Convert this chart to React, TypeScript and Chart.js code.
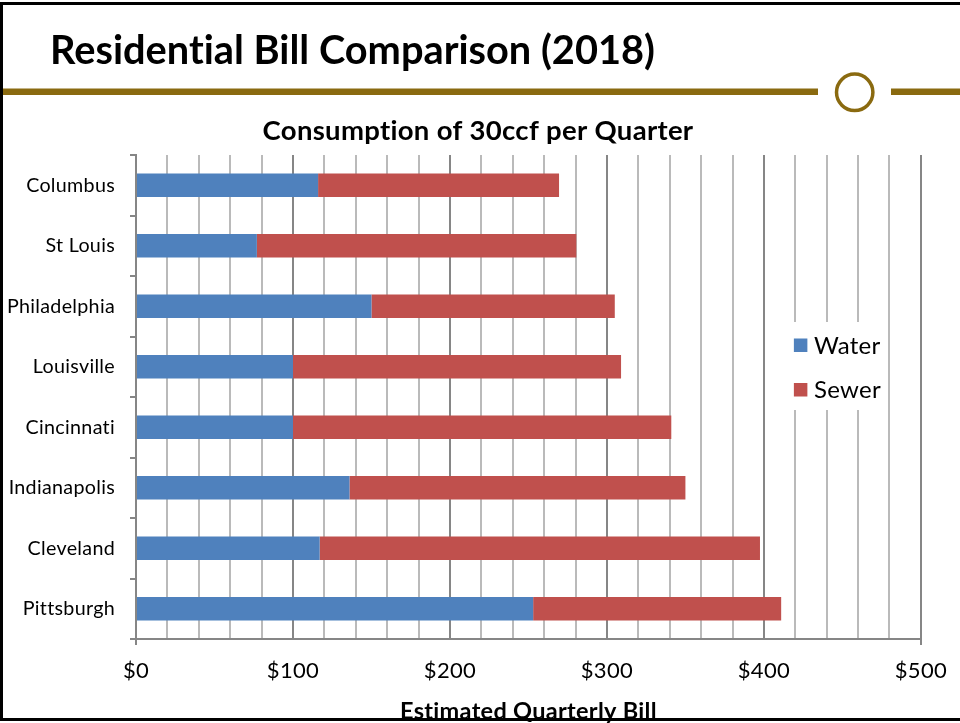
import React, { useEffect, useRef } from 'react';
import { Chart, registerables } from 'chart.js';

Chart.register(...registerables);

// ---- Data ----
const cities = ['Columbus', 'St Louis', 'Philadelphia', 'Louisville', 'Cincinnati', 'Indianapolis', 'Cleveland', 'Pittsburgh'];
const waterBill = [116, 77, 150, 100, 100, 136, 117, 253];
const sewerBill = [153.5, 203.5, 155, 209, 241, 214, 280.5, 158];
const seriesNames = ['Water', 'Sewer'];
const seriesColors = ['#4F81BD', '#C0504D'];
const xMin = 0;
const xMax = 500;
const xGridStep = 20;
const xLabelStep = 100;
const pageTitle = 'Residential Bill Comparison (2018)';
const chartTitle = 'Consumption of 30ccf per Quarter';
const xAxisTitle = 'Estimated Quarterly Bill';

const GOLD = '#8A6A10';
const FONT = 'Lato';

// Disable ligatures (e.g. "ti") in canvas text by a tiny letter spacing.
function setSpacing(chart: any) {
  try {
    chart.ctx.letterSpacing = '0.3px';
  } catch (e) {
    /* ignore */
  }
}
const noLigatures = {
  id: 'noLigatures',
  beforeUpdate: setSpacing,
  beforeLayout: setSpacing,
  beforeDraw: setSpacing,
};

// Center the chart title over a slightly shifted band, like the original.
const titleShift = {
  id: 'titleShift',
  afterLayout(chart: any) {
    const tb = chart.titleBlock;
    if (tb) {
      tb.left = 26;
      tb.width = tb.right - tb.left;
    }
  },
};

const insideLegend = {
  id: 'insideLegend',
  afterDraw(chart: any) {
    const { ctx, chartArea } = chart;
    const left = chartArea.right - 130;
    const top = chartArea.top + 167;
    const w = 97;
    const h = 88;
    ctx.save();
    ctx.fillStyle = '#ffffff';
    ctx.fillRect(left, top, w, h);
    ctx.font = `24px ${FONT}`;
    ctx.textBaseline = 'middle';
    ctx.textAlign = 'left';
    chart.data.datasets.forEach((ds: any, i: number) => {
      const cy = top + 23 + i * 44.5;
      ctx.fillStyle = ds.backgroundColor;
      ctx.fillRect(left + 3, cy - 6.5, 13.5, 13.5);
      ctx.fillStyle = '#000';
      ctx.fillText(ds.label, left + 23, cy + 1);
    });
    ctx.restore();
  },
};

export default function App() {
  const canvasRef = useRef<HTMLCanvasElement | null>(null);

  useEffect(() => {
    document.body.style.margin = '0';
    const canvas = canvasRef.current;
    if (!canvas) return;
    const chart = new Chart(canvas, {
      type: 'bar',
      data: {
        labels: cities,
        datasets: [
          { label: seriesNames[0], data: waterBill, backgroundColor: seriesColors[0], barPercentage: 0.385, categoryPercentage: 1 },
          { label: seriesNames[1], data: sewerBill, backgroundColor: seriesColors[1], barPercentage: 0.385, categoryPercentage: 1 },
        ],
      },
      options: {
        indexAxis: 'y',
        responsive: false,
        animation: false,
        events: [],
        layout: { padding: { top: 100, left: 0, right: 30, bottom: 0 } },
        plugins: {
          legend: { display: false },
          tooltip: { enabled: false },
          title: {
            display: true,
            text: chartTitle,
            color: '#000',
            font: { family: FONT, size: 27.5, weight: 'bold', lineHeight: 1.2 },
            padding: { top: 14.5, bottom: 7.5 },
          },
        },
        scales: {
          x: {
            stacked: true,
            min: xMin,
            max: xMax,
            ticks: {
              stepSize: xGridStep,
              autoSkip: false,
              maxRotation: 0,
              color: '#000',
              padding: 13,
              font: { family: FONT, size: 22 },
              callback: (v: any) => (Number(v) % xLabelStep === 0 ? '$' + v : ''),
            },
            grid: {
              color: (c: any) => (c.tick && Number(c.tick.value) % xLabelStep === 0 ? '#868686' : '#bababa'),
              lineWidth: 2,
              tickLength: 6,
              tickColor: (c: any) =>
                c.tick && (c.tick.value === xMin || c.tick.value === xMax) ? '#868686' : 'rgba(0,0,0,0)',
            },
            border: { color: '#868686', width: 2 },
            title: {
              display: true,
              text: xAxisTitle,
              color: '#000',
              font: { family: FONT, size: 23.5, weight: 'bold', lineHeight: 1 },
              padding: 0,
            },
            afterFit: (s: any) => {
              s.height = 84;
            },
          },
          y: {
            stacked: true,
            ticks: { color: '#000', padding: 15, font: { family: FONT, size: 19.7 } },
            grid: { drawOnChartArea: false, tickLength: 6, color: '#868686', lineWidth: 2 },
            border: { color: '#868686', width: 2 },
            afterFit: (s: any) => {
              s.width = 136;
            },
          },
        },
      } as any,
      plugins: [noLigatures, titleShift, insideLegend],
    });
    return () => chart.destroy();
  }, []);

  return (
    <div style={{ position: 'fixed', left: 0, top: 0, width: 960, height: 723, background: '#fff', overflow: 'hidden' }}>
      <canvas ref={canvasRef} width={960} height={723} style={{ position: 'absolute', left: 0, top: 0 }} />
      <svg width={960} height={723} style={{ position: 'absolute', left: 0, top: 0, pointerEvents: 'none' }}>
        <text
          x={50}
          y={64}
          fontFamily={FONT}
          fontWeight="bold"
          fontSize={40}
          fill="#000"
          textLength={605}
          lengthAdjust="spacingAndGlyphs"
          style={{ fontVariantLigatures: 'none' }}
        >
          {pageTitle}
        </text>
        <rect x={3} y={88.5} width={815} height={6.5} fill={GOLD} />
        <circle cx={854.7} cy={92.3} r={18.2} fill="none" stroke={GOLD} strokeWidth={3.5} />
        <rect x={891} y={88.5} width={69} height={6.5} fill={GOLD} />
        <rect x={0} y={2} width={960} height={3} fill="#000" />
        <rect x={0} y={2} width={3} height={719} fill="#000" />
        <rect x={0} y={718} width={960} height={3} fill="#000" />
      </svg>
    </div>
  );
}
